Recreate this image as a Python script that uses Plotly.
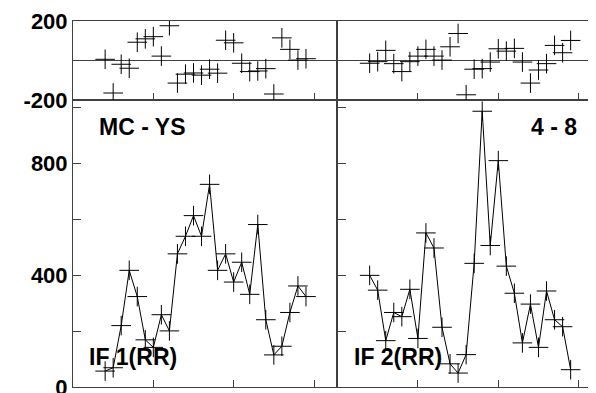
import plotly.graph_objects as go

# x positions (no labels on the x axis)
x_vals = [0.4, 0.5, 0.6, 0.7, 0.8, 0.9, 1.0, 1.1, 1.2, 1.3, 1.4, 1.5, 1.6,
          1.7, 1.8, 1.9, 2.0, 2.1, 2.2, 2.3, 2.4, 2.5, 2.6, 2.7, 2.8, 2.9]

# main panels
if1_rr = [57, 69, 220, 418, 324, 169, 142, 259, 201, 477, 540, 614, 540,
          726, 418, 477, 376, 447, 332, 582, 241, 115, 146, 267, 362, 324]
if2_rr = [400, 347, 166, 267, 252, 350, 174, 552, 498, 214, 83, 50, 116,
          443, 988, 507, 811, 433, 336, 158, 297, 142, 344, 241, 216, 62]

# residual panels (top)
resid1 = [7, -163, -18, -38, 93, 110, 121, 23, 176, -113, -68, -62, -73,
          -43, -63, 103, 90, -13, -55, -52, -40, -168, 115, 57, 3, 10]
resid2 = [-13, -5, 52, -15, -55, -5, 23, 57, 23, 3, 70, 137, -172,
          -43, -40, -7, 60, 48, 62, -7, -113, -47, -15, 77, 40, 102]

main_ticks = [0, 200, 400, 600, 800, 1000]
main_labels = ["0", "", "400", "", "800", ""]
resid_ticks = [-200, 0, 200]
resid_labels = ["-200", "", "200"]

FONT = "Liberation Sans, Arial, sans-serif"
LINE = "#404040"

mk = dict(symbol="cross-thin", size=14, color="black",
          line=dict(color="black", width=1))

fig = go.Figure()
fig.add_trace(go.Scatter(x=x_vals, y=if1_rr, mode="lines+markers",
                         line=dict(color="black", width=1), marker=mk,
                         xaxis="x", yaxis="y"))
fig.add_trace(go.Scatter(x=x_vals, y=if2_rr, mode="lines+markers",
                         line=dict(color="black", width=1), marker=mk,
                         xaxis="x2", yaxis="y2"))
fig.add_trace(go.Scatter(x=x_vals, y=resid1, mode="markers", marker=mk,
                         xaxis="x3", yaxis="y3"))
fig.add_trace(go.Scatter(x=x_vals, y=resid2, mode="markers", marker=mk,
                         xaxis="x4", yaxis="y4"))

# the page body adds an 8px offset, so the figure is laid out to match
left_dom = [0, 0.4981]
right_dom = [0.5, 1]
main_dom = [0, 0.7832]
resid_dom = [0.7832, 1]

xcommon = dict(showline=True, linecolor=LINE, linewidth=1, mirror=True,
               ticks="inside", ticklen=7, tickcolor=LINE, tickvals=[1, 2, 3],
               showticklabels=False, showgrid=False, zeroline=False)
ycommon = dict(showline=True, linecolor=LINE, linewidth=1, mirror=True,
               ticks="inside", ticklen=8, tickcolor=LINE, showgrid=False,
               tickfont=dict(family=FONT, size=22, color="black", weight="bold"),
               ticklabelstandoff=0, ticklabeloverflow="allow")

fig.update_layout(
    width=596, height=393,
    margin=dict(l=65, r=1, t=10, b=14),
    paper_bgcolor="white", plot_bgcolor="white",
    showlegend=False,
    xaxis=dict(domain=left_dom, range=[0, 3.28], anchor="y", **xcommon),
    xaxis2=dict(domain=right_dom, range=[0, 3.29], anchor="y2", **xcommon),
    xaxis3=dict(domain=left_dom, range=[0, 3.28], anchor="y3", **xcommon),
    xaxis4=dict(domain=right_dom, range=[0, 3.29], anchor="y4", **xcommon),
    yaxis=dict(domain=main_dom, range=[0, 1027], anchor="x",
               tickvals=main_ticks, ticktext=main_labels, zeroline=False,
               **ycommon),
    yaxis2=dict(domain=main_dom, range=[0, 1027], anchor="x2",
                tickvals=main_ticks, showticklabels=False, zeroline=False,
                **ycommon),
    yaxis3=dict(domain=resid_dom, range=[-200, 200], anchor="x3",
                tickvals=resid_ticks, ticktext=resid_labels,
                zeroline=True, zerolinecolor=LINE, zerolinewidth=1, **ycommon),
    yaxis4=dict(domain=resid_dom, range=[-200, 200], anchor="x4",
                tickvals=resid_ticks, showticklabels=False,
                zeroline=True, zerolinecolor=LINE, zerolinewidth=1, **ycommon),
)

lab = dict(family=FONT, size=23, color="black", weight="bold")
fig.add_annotation(text="MC - YS", x=0.3, y=932, xref="x", yref="y",
                   xanchor="left", yanchor="middle", showarrow=False, font=lab)
fig.add_annotation(text="4 - 8", x=3.0, y=932, xref="x2", yref="y2",
                   xanchor="right", yanchor="middle", showarrow=False, font=lab)
fig.add_annotation(text="IF 1(RR)", x=0.18, y=106, xref="x", yref="y",
                   xanchor="left", yanchor="middle", showarrow=False, font=lab)
fig.add_annotation(text="IF 2(RR)", x=0.18, y=106, xref="x2", yref="y2",
                   xanchor="left", yanchor="middle", showarrow=False, font=lab)

fig.write_html("out.html")
